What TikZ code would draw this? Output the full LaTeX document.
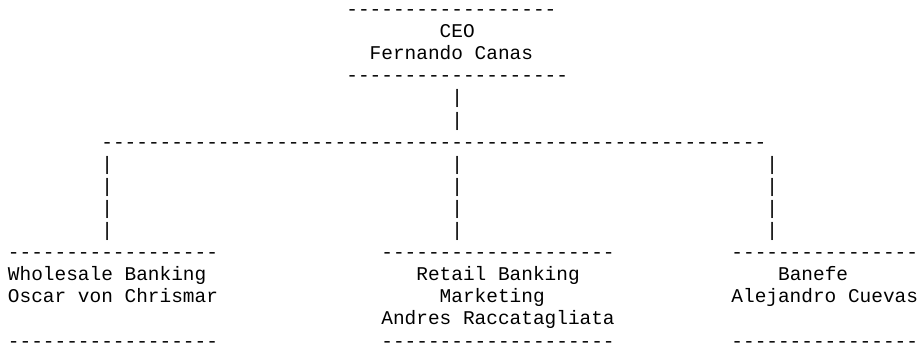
\documentclass[tikz,border=0pt]{standalone}
\usepackage{fontspec}
\setmonofont{Liberation Mono}
\tikzset{
  ln/.style={anchor=base west, inner sep=0pt, outer sep=0pt, text=black,
    font=\ttfamily\fontsize{19.44pt}{22pt}\selectfont}
}
\begin{document}
\begin{tikzpicture}
\useasboundingbox (0pt,0pt) rectangle (918pt,-351pt);
\begin{scope}[shift={(8pt,-15.5pt)}, x=11.668pt, y=-22.1pt]
  % CEO box
  \node[ln] (ceotop) at (29,0) {------------------};
  \node[ln] (ceot) at (37,1) {CEO};
  \node[ln] (ceon) at (31,2) {Fernando Canas};
  \node[ln] (ceobot) at (29,3) {-------------------};
  \node[ln] (p4) at (38,4) {|};
  \node[ln] (p5) at (38,5) {|};
  \node[ln] (bus) at (8,6) {---------------------------------------------------------};
  % vertical connectors
  \foreach \r in {7,8,9,10}{
    \node[ln] (pl\r) at (8,\r) {|};
    \node[ln] (pm\r) at (38,\r) {|};
    \node[ln] (pr\r) at (65,\r) {|};
  }
  % Wholesale
  \node[ln] (wtop) at (0,11) {------------------};
  \node[ln] (wt) at (0,12) {Wholesale Banking};
  \node[ln] (wn) at (0,13) {Oscar von Chrismar};
  \node[ln] (wbot) at (0,15) {------------------};
  % Retail
  \node[ln] (rtop) at (32,11) {--------------------};
  \node[ln] (rt) at (35,12) {Retail Banking};
  \node[ln] (rt2) at (37,13) {Marketing};
  \node[ln] (rn) at (32,14) {Andres Raccatagliata};
  \node[ln] (rbot) at (32,15) {--------------------};
  % Banefe
  \node[ln] (btop) at (62,11) {----------------};
  \node[ln] (bt) at (66,12) {Banefe};
  \node[ln] (bn) at (62,13) {Alejandro Cuevas};
  \node[ln] (bbot) at (62,15) {----------------};
\end{scope}
\end{tikzpicture}
\end{document}
